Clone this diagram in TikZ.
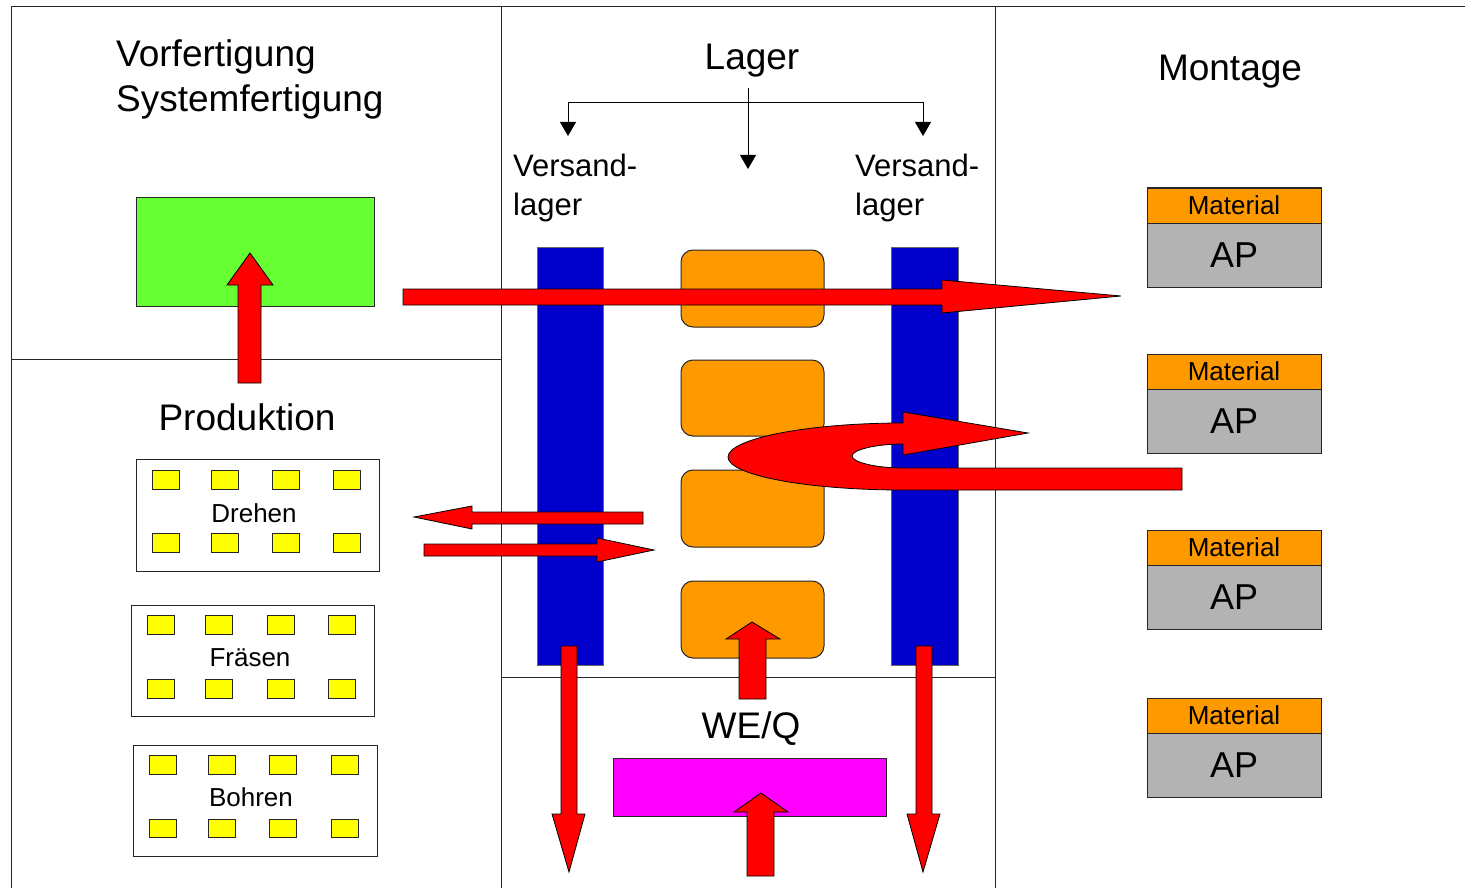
\documentclass[tikz,border=0pt]{standalone}
\usepackage{fontspec}
\setmainfont{Liberation Sans}
\usetikzlibrary{arrows.meta}
\definecolor{myorange}{RGB}{255,153,0}
\definecolor{mygray}{RGB}{179,179,179}
\definecolor{myblue}{RGB}{0,0,204}
\definecolor{mygreen}{RGB}{102,255,51}
\definecolor{mymagenta}{RGB}{255,0,255}
\definecolor{myyellow}{RGB}{255,255,0}
\definecolor{myred}{RGB}{255,0,0}
\newcommand\setfs[1]{\fontsize{#1}{#1}\selectfont}
\newcommand\rnode[7]{\node[#1, minimum width={(#5)-(#3)}, minimum height={(#6)-(#4)}] (#2) at ({((#3)+(#5))/2},{((#4)+(#6))/2}) {#7};}
\begin{document}
\begin{tikzpicture}[x=1pt,y=-1pt,
  frame/.style={draw=black!85, line width=1pt},
  box/.style={rectangle, draw=black!85, line width=1pt, inner sep=0pt, outer sep=0pt},
  ybox/.style={box, fill=myyellow},
  bbar/.style={box, draw=black!60, fill=myblue},
  obox/.style={box, fill=myorange, rounded corners=12pt},
  mat/.style={box, fill=myorange, font=\setfs{26}},
  ap/.style={box, fill=mygray, font=\setfs{36}},
  blk/.style={fill=myred, draw=black, line width=0.8pt, line join=miter},
  lagarrow/.style={-{Triangle[width=16pt,length=14pt]}, line width=1pt},
  big/.style={inner sep=0pt, font=\setfs{37}},
  mid/.style={inner sep=0pt, font=\setfs{31}},
  small/.style={inner sep=0pt, font=\setfs{26}}]
\useasboundingbox (0,0) rectangle (1465,888);

% frame
\draw[frame] (1465,7) -- (11,7) -- (11,888);
\draw[frame] (501,7) -- (501,888);
\draw[frame] (995,7) -- (995,888);
\draw[frame] (11,359) -- (501,359);
\draw[frame] (501,677) -- (995,677);

% Vorfertigung
\rnode{box, fill=mygreen}{green}{136}{197}{374}{306}{}
\node[big, anchor=base west] (t-vor) at (116,67) {Vorfertigung};
\node[big, anchor=base west] (t-sys) at (116,112) {Systemfertigung};

% Produktion
\node[big, anchor=base] (t-prod) at (247,430) {Produktion};
\rnode{box}{dreh}{136}{459}{379}{571}{}
\rnode{box}{fraes}{131}{605}{374}{716}{}
\rnode{box}{bohr}{133}{745}{377}{856}{}
\foreach \x [count=\i] in {152,211,272,333}{
  \rnode{ybox}{d-a-\i}{\x}{470}{\x+27}{489}{}
  \rnode{ybox}{d-b-\i}{\x}{533}{\x+27}{552}{}
}
\foreach \x [count=\i] in {147,205,267,328}{
  \rnode{ybox}{f-a-\i}{\x}{615}{\x+27}{634}{}
  \rnode{ybox}{f-b-\i}{\x}{679}{\x+27}{698}{}
}
\foreach \x [count=\i] in {149,208,269,331}{
  \rnode{ybox}{b-a-\i}{\x}{755}{\x+27}{774}{}
  \rnode{ybox}{b-b-\i}{\x}{819}{\x+27}{837}{}
}
\node[small, anchor=base] (t-dreh) at (254,522) {Drehen};
\node[small, anchor=base] (t-fraes) at (250,666) {Fräsen};
\node[small, anchor=base] (t-bohr) at (251,806) {Bohren};

% Lager
\node[big, anchor=base] (t-lager) at (752,70) {Lager};
\node[mid, anchor=base west] (t-vl1) at (513,177) {Versand-};
\node[mid, anchor=base west] (t-vl2) at (513,215) {lager};
\node[mid, anchor=base west] (t-vr1) at (855,177) {Versand-};
\node[mid, anchor=base west] (t-vr2) at (855,215) {lager};
\coordinate (lg-top) at (748,88);
\coordinate (lg-mid) at (748,169);
\coordinate (lg-bar) at (748,103);
\coordinate (lg-l) at (568,136);
\coordinate (lg-r) at (923,136);
\draw[lagarrow] (lg-top) -- (lg-mid);
\draw[lagarrow] (lg-bar) -| (lg-l);
\draw[lagarrow] (lg-bar) -| (lg-r);

\rnode{bbar}{bl}{537}{247}{603}{665}{}
\rnode{bbar}{br}{891}{247}{958}{665}{}
\rnode{obox}{o1}{681}{250}{824}{327}{}
\rnode{obox}{o2}{681}{360}{824}{436}{}
\rnode{obox}{o3}{681}{470}{824}{547}{}
\rnode{obox}{o4}{681}{581}{824}{658}{}

% WE/Q
\node[big, anchor=base] (t-weq) at (751,738) {WE/Q};
\rnode{box, fill=mymagenta}{mag}{613}{758}{886}{816}{}

% Montage
\node[big, anchor=base] (t-mont) at (1230,81) {Montage};
\foreach \t [count=\i] in {188,354,530,698}{
  \rnode{mat}{m-\i}{1147}{\t}{1321}{\t+35}{Material}
  \rnode{ap}{ap-\i}{1147}{\t+35}{1321}{\t+99}{AP}
}

% block arrows
\draw[blk] (238,383)--(238,285)--(227,285)--(250,253)--(273,285)--(261,285)--(261,383)--cycle;
\draw[blk] (403,289)--(942,289)--(942,280)--(1121,296)--(942,313)--(942,305)--(403,305)--cycle;
\draw[blk] (643,512)--(472,512)--(472,506)--(414,517)--(472,529)--(472,524)--(643,524)--cycle;
\draw[blk] (424,544)--(597,544)--(597,538)--(654,550)--(597,562)--(597,556)--(424,556)--cycle;
\draw[blk] (561,646)--(577,646)--(577,814)--(585,814)--(569,872)--(552,814)--(561,814)--cycle;
\draw[blk] (916,646)--(932,646)--(932,814)--(940,814)--(923,872)--(907,814)--(916,814)--cycle;
\draw[blk] (739,699)--(739,639)--(726,639)--(752,622)--(780,639)--(766,639)--(766,699)--cycle;
\draw[blk] (747,876)--(747,812)--(734,812)--(761,793)--(788,812)--(774,812)--(774,876)--cycle;
% U-turn arrow
\draw[blk] (1182,468)--(1182,490)--(903,490)
  .. controls (806,490) and (728,475) .. (728,457)
  .. controls (728,439) and (806,423) .. (903,423)
  --(903,412)--(1028,433)--(903,455)--(903,444)
  .. controls (875,444) and (852,450) .. (852,456)
  .. controls (852,462) and (875,468) .. (903,468)
  --cycle;
\end{tikzpicture}
\end{document}
